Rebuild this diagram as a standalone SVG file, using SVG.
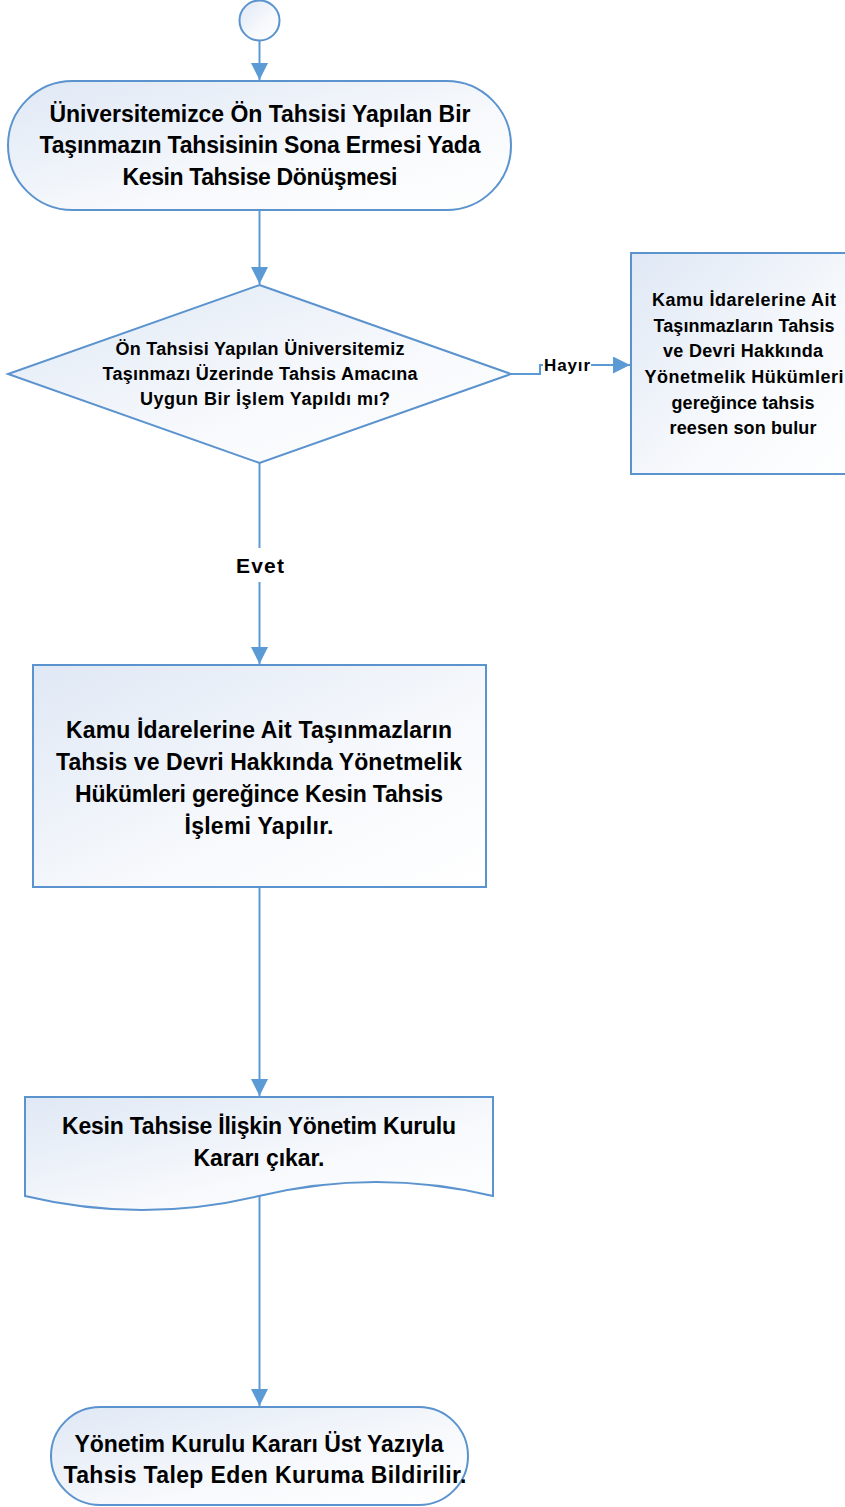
<svg xmlns="http://www.w3.org/2000/svg" width="845" height="1507" viewBox="0 0 845 1507">
<style>
.shape{stroke:#5b93cf;stroke-width:2;fill:url(#g)}
.conn{stroke:#5b9bd5;stroke-width:2;fill:none}
text{font-family:"Liberation Sans",Arial,sans-serif;font-weight:bold;fill:#000;text-anchor:middle}
.big{font-size:23px}
.mid{font-size:18px}
.lbl{font-size:21px}
.lbs{font-size:17px}
</style>
<defs>
<linearGradient id="g" x1="0" y1="0" x2="1" y2="1">
<stop offset="0" stop-color="#dfe8f5"/>
<stop offset="0.6" stop-color="#f7f9fc"/>
<stop offset="1" stop-color="#ffffff"/>
</linearGradient>
<marker id="arr" markerUnits="userSpaceOnUse" markerWidth="17" markerHeight="17" viewBox="0 0 10 10" refX="10" refY="5" orient="auto">
<path d="M0,0 L10,5 L0,10 z" fill="#5b9bd5"/>
</marker>
</defs>
<g id="connectors">
<path class="conn" d="M259.5,41 V80" marker-end="url(#arr)"/>
<path class="conn" d="M259.5,210 V284" marker-end="url(#arr)"/>
<path class="conn" d="M259.5,463 V548"/>
<path class="conn" d="M259.5,582 V664" marker-end="url(#arr)"/>
<path class="conn" d="M259.5,887 V1096" marker-end="url(#arr)"/>
<path class="conn" d="M259.5,1196 V1406" marker-end="url(#arr)"/>
<path class="conn" d="M511,374 H540 V365 H543"/>
<path class="conn" d="M591,365 H630" marker-end="url(#arr)"/>
<text class="lbs" x="567" y="371" textLength="46">Hayır</text>
<text class="lbl" x="260" y="573" textLength="48">Evet</text>
</g>
<g id="start">
<circle class="shape" cx="259.5" cy="20.5" r="20"/>
</g>
<g id="t1">
<rect class="shape" x="8" y="81" width="503" height="129" rx="64.5" ry="64.5"/>
<text class="big" x="260" y="122" textLength="421">Üniversitemizce Ön Tahsisi Yapılan Bir</text>
<text class="big" x="260" y="153" textLength="441">Taşınmazın Tahsisinin Sona Ermesi Yada</text>
<text class="big" x="260" y="185" textLength="275">Kesin Tahsise Dönüşmesi</text>
</g>
<g id="decision">
<path class="shape" d="M259.5,285 L511,374 L259.5,463 L8,374 Z"/>
<text class="mid" x="260" y="355" textLength="289">Ön Tahsisi Yapılan Üniversitemiz</text>
<text class="mid" x="260" y="380" textLength="315">Taşınmazı Üzerinde Tahsis Amacına</text>
<text class="mid" x="265" y="405" textLength="250">Uygun Bir İşlem Yapıldı mı?</text>
</g>
<g id="side">
<rect class="shape" x="631" y="253" width="225" height="221"/>
<text class="mid" x="744" y="306" textLength="184">Kamu İdarelerine Ait</text>
<text class="mid" x="744" y="332" textLength="181">Taşınmazların Tahsis</text>
<text class="mid" x="743" y="357" textLength="160">ve Devri Hakkında</text>
<text class="mid" x="744" y="383" textLength="199">Yönetmelik Hükümleri</text>
<text class="mid" x="743" y="409" textLength="143">gereğince tahsis</text>
<text class="mid" x="743" y="434" textLength="147">reesen son bulur</text>
</g>
<g id="process">
<rect class="shape" x="33" y="665" width="453" height="222"/>
<text class="big" x="259" y="738" textLength="386">Kamu İdarelerine Ait Taşınmazların</text>
<text class="big" x="259" y="770" textLength="406">Tahsis ve Devri Hakkında Yönetmelik</text>
<text class="big" x="259" y="802" textLength="368">Hükümleri gereğince Kesin Tahsis</text>
<text class="big" x="259" y="834" textLength="149">İşlemi Yapılır.</text>
</g>
<g id="document">
<path class="shape" d="M25,1097 H493 V1196 Q376,1168 259,1196 Q142,1224 25,1196 Z"/>
<text class="big" x="259" y="1134" textLength="394">Kesin Tahsise İlişkin Yönetim Kurulu</text>
<text class="big" x="259" y="1166" textLength="131">Kararı çıkar.</text>
</g>
<g id="t2">
<rect class="shape" x="51" y="1407" width="417" height="98" rx="49" ry="49"/>
<text class="big" x="259" y="1452" textLength="369">Yönetim Kurulu Kararı Üst Yazıyla</text>
<text class="big" x="265" y="1483" textLength="403">Tahsis Talep Eden Kuruma Bildirilir.</text>
</g>
</svg>
